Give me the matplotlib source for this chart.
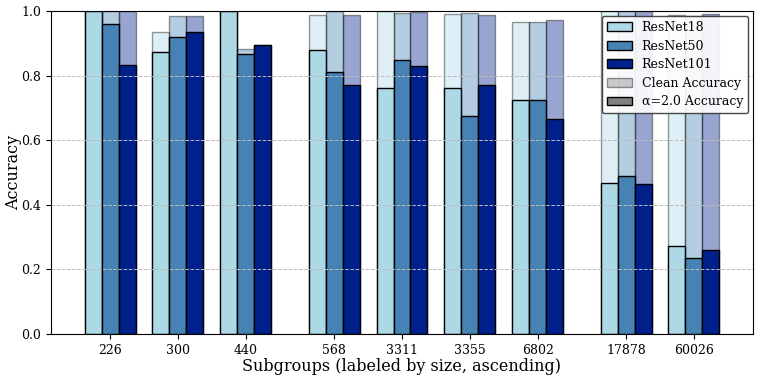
import matplotlib
matplotlib.use("Agg")
import matplotlib.pyplot as plt
from matplotlib.patches import Patch
import numpy as np

plt.rcParams['font.family'] = 'DejaVu Serif'

subgroups = ['226', '300', '440', '568', '3311', '3355', '6802', '17878', '60026']
# gaps between size buckets (small / medium / large)
positions = np.array([0, 1, 2, 3.3, 4.3, 5.3, 6.3, 7.6, 8.6])

models = ['ResNet18', 'ResNet50', 'ResNet101']
colors = ['#add8e6', '#4682b4', '#00208c']

clean_acc = {
    'ResNet18': [1.0, 0.936, 1.0, 0.986, 0.999, 0.990, 0.965, 1.0, 0.988],
    'ResNet50': [1.0, 0.985, 0.881, 0.999, 0.994, 0.993, 0.966, 1.0, 0.985],
    'ResNet101': [1.0, 0.985, 0.895, 0.986, 0.996, 0.986, 0.971, 1.0, 0.991],
}
adv_acc = {
    'ResNet18': [1.0, 0.872, 1.0, 0.878, 0.763, 0.763, 0.723, 0.468, 0.271],
    'ResNet50': [0.959, 0.920, 0.868, 0.812, 0.848, 0.675, 0.723, 0.488, 0.235],
    'ResNet101': [0.834, 0.936, 0.895, 0.771, 0.829, 0.770, 0.667, 0.464, 0.260],
}

width = 0.25
fig = plt.figure(figsize=(7.61, 3.78), dpi=100)
ax = fig.add_axes([0.067, 0.1164, 0.9225, 0.8546])

for i, m in enumerate(models):
    x = positions + (i - 1) * width
    ax.bar(x, clean_acc[m], width, color=colors[i], alpha=0.4,
           edgecolor='black', linewidth=1)
    ax.bar(x, adv_acc[m], width, color=colors[i],
           edgecolor='black', linewidth=1)

ax.set_xticks(positions)
ax.set_xticklabels(subgroups, fontsize=9)
ax.set_ylim(0, 1.0)
ax.set_yticks(np.arange(0, 1.01, 0.2))
ax.tick_params(axis='y', labelsize=9)
ax.set_xlim(-0.87, 9.47)
ax.set_ylabel('Accuracy', fontsize=11.5)
ax.yaxis.set_label_coords(-0.041, 0.5)
ax.set_xlabel('Subgroups (labeled by size, ascending)', fontsize=11.5, labelpad=1)
ax.yaxis.grid(True, linestyle='--', color='#bbbbbb', linewidth=0.7)

handles = [Patch(facecolor=c, edgecolor='black', label=m) for m, c in zip(models, colors)]
handles.append(Patch(facecolor='gray', alpha=0.4, edgecolor='black', label='Clean Accuracy'))
handles.append(Patch(facecolor='gray', edgecolor='black', label='α=2.0 Accuracy'))
leg = ax.legend(handles=handles, loc='upper right', fontsize=9, framealpha=0.9,
                edgecolor='#333333', handlelength=2.0, labelspacing=0.45,
                borderaxespad=0.4)

fig.savefig('out.png', dpi=100)
